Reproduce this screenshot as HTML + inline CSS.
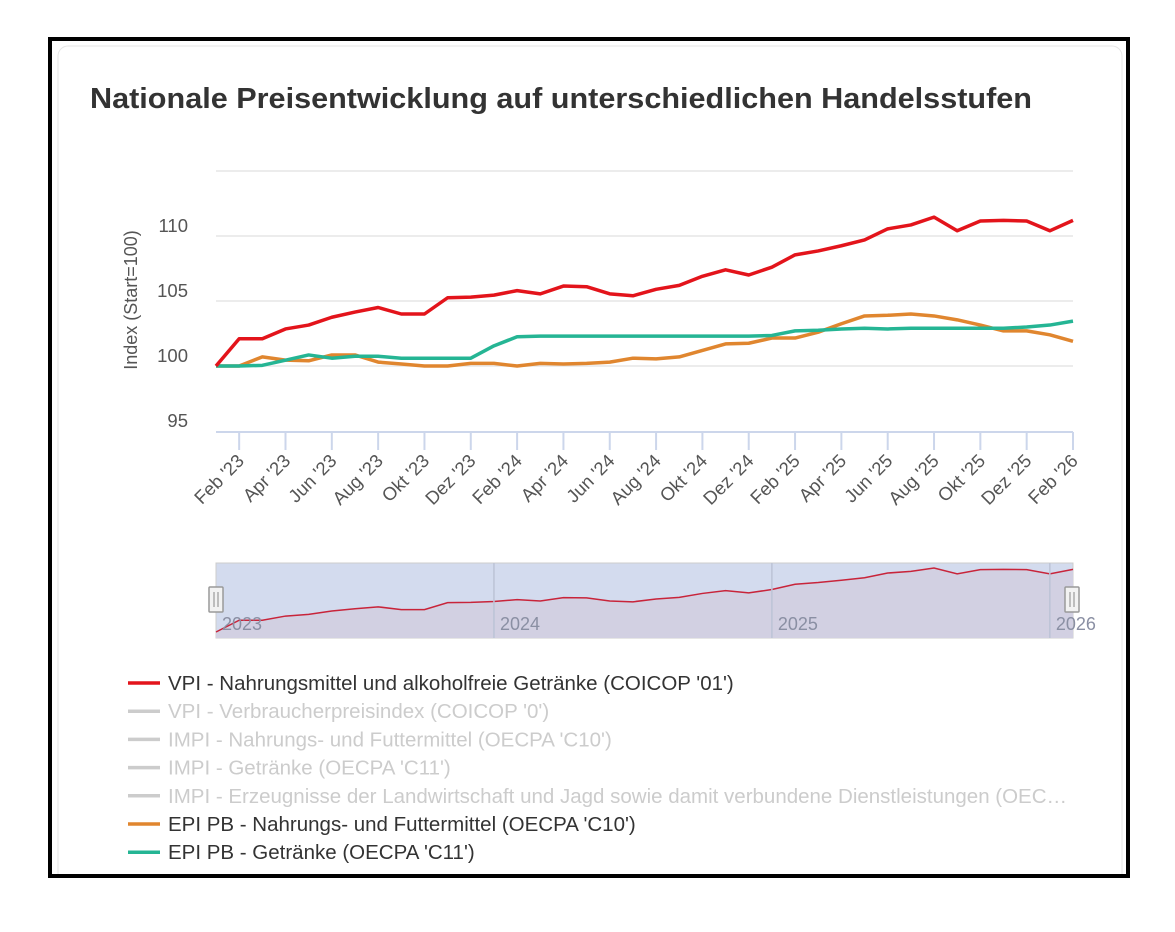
<!DOCTYPE html>
<html><head><meta charset="utf-8"><style>
body{margin:0;width:1175px;height:932px;background:#fff;font-family:"Liberation Sans",sans-serif;overflow:hidden}
svg{position:absolute;left:0;top:0}
</style></head><body>
<svg width="1175" height="932" id="svg">
<rect x="58" y="46" width="1064" height="860" rx="10" fill="#fff" stroke="#e6e6e6"/>
<rect x="0" y="878" width="1175" height="54" fill="#fff"/>
<rect x="50" y="39" width="1078" height="837" fill="none" stroke="#000" stroke-width="4"/>
<text x="90" y="108" font-size="29" font-weight="bold" fill="#333" textLength="942" lengthAdjust="spacingAndGlyphs">Nationale Preisentwicklung auf unterschiedlichen Handelsstufen</text>
<text transform="translate(137,300) rotate(-90)" text-anchor="middle" font-size="18" fill="#555">Index (Start=100)</text>
<g id="grid"></g><g id="xaxis"></g><g id="series"></g><g id="nav"></g><g id="legend"></g>
</svg>
<script>
const categories=["Jan '23","Feb '23","Mär '23","Apr '23","Mai '23","Jun '23","Jul '23","Aug '23","Sep '23","Okt '23","Nov '23","Dez '23","Jan '24","Feb '24","Mär '24","Apr '24","Mai '24","Jun '24","Jul '24","Aug '24","Sep '24","Okt '24","Nov '24","Dez '24","Jan '25","Feb '25","Mär '25","Apr '25","Mai '25","Jun '25","Jul '25","Aug '25","Sep '25","Okt '25","Nov '25","Dez '25","Jan '26","Feb '26"];
const vpiFood=[100,102.1,102.1,102.85,103.15,103.75,104.15,104.5,104.0,104.0,105.25,105.3,105.45,105.8,105.55,106.15,106.1,105.55,105.4,105.9,106.2,106.9,107.4,107.0,107.6,108.55,108.85,109.25,109.7,110.55,110.85,111.45,110.4,111.15,111.2,111.15,110.4,111.2];
const epiFood=[100,100,100.7,100.45,100.4,100.85,100.85,100.3,100.15,100,100,100.2,100.2,100,100.2,100.15,100.2,100.3,100.6,100.55,100.7,101.2,101.7,101.75,102.15,102.15,102.6,103.25,103.85,103.9,104.0,103.85,103.55,103.15,102.7,102.7,102.4,101.9];
const epiDrinks=[100,100,100.05,100.45,100.85,100.6,100.75,100.75,100.6,100.6,100.6,100.6,101.55,102.25,102.3,102.3,102.3,102.3,102.3,102.3,102.3,102.3,102.3,102.3,102.35,102.7,102.75,102.85,102.9,102.85,102.9,102.9,102.9,102.9,102.9,103.0,103.15,103.45];
const yTicks=[95,100,105,110,115];
const xTickLabels=["Feb '23","Apr '23","Jun '23","Aug '23","Okt '23","Dez '23","Feb '24","Apr '24","Jun '24","Aug '24","Okt '24","Dez '24","Feb '25","Apr '25","Jun '25","Aug '25","Okt '25","Dez '25","Feb '26"];
const navYears=["2023","2024","2025","2026"];
const legendLabels=["VPI - Nahrungsmittel und alkoholfreie Getränke (COICOP '01')","VPI - Verbraucherpreisindex (COICOP '0')","IMPI - Nahrungs- und Futtermittel (OECPA 'C10')","IMPI - Getränke (OECPA 'C11')","IMPI - Erzeugnisse der Landwirtschaft und Jagd sowie damit verbundene Dienstleistungen (OEC…","EPI PB - Nahrungs- und Futtermittel (OECPA 'C10')","EPI PB - Getränke (OECPA 'C11')"];
const legendColors=["#e3141b","#ccc","#ccc","#ccc","#ccc","#e0862f","#25b594"];
const legendText=["#333","#ccc","#ccc","#ccc","#ccc","#333","#333"];

const NS="http://www.w3.org/2000/svg";
function mk(parent,tag,attrs){const e=document.createElementNS(NS,tag);for(const k in attrs)e.setAttribute(k,attrs[k]);document.getElementById(parent).appendChild(e);return e;}
const X0=216,X1=1073,n=categories.length;
const x=i=>X0+(X1-X0)*i/(n-1);
const y=v=>366-(v-100)*13;
yTicks.forEach(t=>{
  if(t>95){const g=mk('grid','line',{x1:X0,x2:X1,y1:y(t),y2:y(t),stroke:'#e6e6e6','stroke-width':1.5});
  
  }
  if(t<115){const l=mk('grid','text',{x:188,y:y(t)-4,'text-anchor':'end','font-size':18.5,fill:'#555'});l.textContent=t;
  
  }
});
const ax=mk('xaxis','line',{x1:X0,x2:X1,y1:432,y2:432,stroke:'#ccd6eb','stroke-width':2});


xTickLabels.forEach(lbl=>{
  const i=categories.indexOf(lbl);const xx=x(i);
  const t=mk('xaxis','line',{x1:xx,x2:xx,y1:432,y2:450,stroke:'#ccd6eb','stroke-width':2});
  
  
  const tx=mk('xaxis','text',{x:xx+6,y:462,'text-anchor':'end','font-size':18.5,fill:'#555',transform:`rotate(-45 ${xx+6} 462)`});tx.textContent=lbl;
  
  
});
function line(data,color,name){
  const p=mk('series','polyline',{points:data.map((v,i)=>x(i)+','+y(v)).join(' '),fill:'none',stroke:color,'stroke-width':3.5,'stroke-linejoin':'round'});
  
  
}
line(epiFood,'#e0862f','series-epi-food');
line(epiDrinks,'#25b594','series-epi-drinks');
line(vpiFood,'#e3141b','series-vpi-food');
const NY0=563,NY1=638;
const nb=mk('nav','rect',{x:X0,y:NY0,width:X1-X0,height:NY1-NY0,fill:'#d3dbee',stroke:'#ccc'});


const vmin=Math.min(...vpiFood),vmax=Math.max(...vpiFood);
const ny=v=>632-(v-vmin)/(vmax-vmin)*64;
const pts=vpiFood.map((v,i)=>x(i)+','+ny(v)).join(' ');
const na=mk('nav','polygon',{points:X0+','+NY1+' '+pts+' '+X1+','+NY1,fill:'#d2d0e2'});


const nl=mk('nav','polyline',{points:pts,fill:'none',stroke:'#c8243a','stroke-width':1.5});


navYears.forEach((yr,k)=>{
  const xx=x(k*12);
  if(k>0){const d=mk('nav','line',{x1:xx,x2:xx,y1:NY0,y2:NY1,stroke:'#bcc3d6','stroke-width':1.5});
  
  }
  const t=mk('nav','text',{x:xx+6,y:630,'font-size':18,fill:'#8a8fa3'});t.textContent=yr;
  
  
});
[X0,X1-1].forEach((hx,k)=>{
  const h=mk('nav','rect',{x:hx-7,y:587,width:14,height:25,fill:'#f2f2f2',stroke:'#999','stroke-width':1.5,rx:1});
  
  
  mk('nav','line',{x1:hx-2,x2:hx-2,y1:592,y2:607,stroke:'#888'});
  mk('nav','line',{x1:hx+2,x2:hx+2,y1:592,y2:607,stroke:'#888'});
});
legendLabels.forEach((lbl,i)=>{
  const yy=683+i*28.2;
  const l=mk('legend','line',{x1:128,x2:160,y1:yy,y2:yy,stroke:legendColors[i],'stroke-width':3.5});
  
  
  const t=mk('legend','text',{x:168,y:yy+7,'font-size':20.5,fill:legendText[i]});t.textContent=lbl;
  
  
});
</script>
</body></html>
